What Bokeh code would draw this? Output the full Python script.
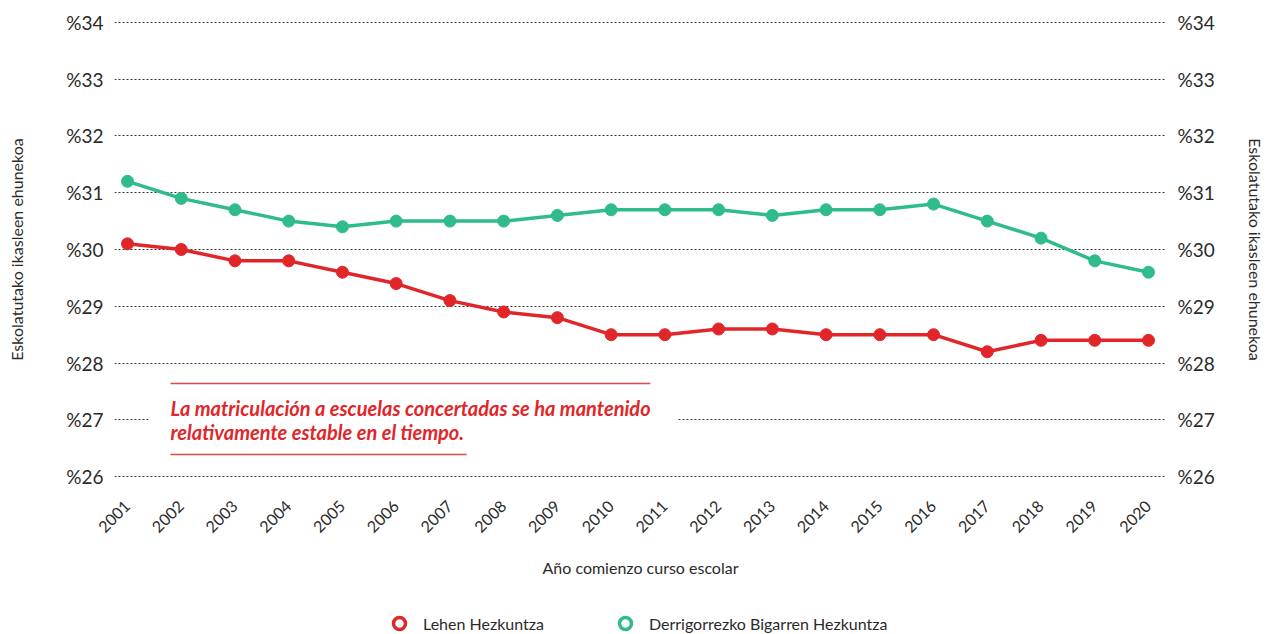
from math import pi
from bokeh.plotting import figure
from bokeh.layouts import column
from bokeh.models import (LinearAxis, FixedTicker, Legend, LegendItem, Label,
                          BoxAnnotation, Range1d, ColumnDataSource)
from bokeh.embed import file_html
from bokeh.resources import INLINE

# ---- data ----
years = list(range(2001, 2021))
lehen = [30.1, 30.0, 29.8, 29.8, 29.6, 29.4, 29.1, 28.9, 28.8, 28.5,
         28.5, 28.6, 28.6, 28.5, 28.5, 28.5, 28.2, 28.4, 28.4, 28.4]
dbh = [31.2, 30.9, 30.7, 30.5, 30.4, 30.5, 30.5, 30.5, 30.6, 30.7,
       30.7, 30.7, 30.6, 30.7, 30.7, 30.8, 30.5, 30.2, 29.8, 29.6]
y_ticks = [26, 27, 28, 29, 30, 31, 32, 33, 34]
y_tick_labels = ["%26", "%27", "%28", "%29", "%30", "%31", "%32", "%33", "%34"]
x_tick_labels = [str(y) for y in years]
series_names = ["Lehen Hezkuntza", "Derrigorrezko Bigarren Hezkuntza"]
y_title = "Eskolatutako ikasleen ehunekoa"
x_title = "Año comienzo curso escolar"
note_lines = ["La matriculación a escuelas concertadas se ha mantenido",
              "relativamente estable en el tiempo."]

RED = "#e1262a"
GREEN = "#2fbb8a"
TXT = "#2b2b2b"
FONT = "Lato"

p = figure(width=1269, height=590,
           x_range=Range1d(2000.758, 2020.335), y_range=Range1d(25.985, 34.015),
           output_backend="svg", toolbar_location=None,
           min_border_left=114, min_border_right=103,
           min_border_top=21, min_border_bottom=113)
p.outline_line_color = None
p.xgrid.grid_line_color = None
p.ygrid.ticker = FixedTicker(ticks=y_ticks)
p.ygrid.grid_line_color = "#333333"
p.ygrid.grid_line_dash = "2 2"
p.ygrid.grid_line_width = 1

# axes
def style_y(ax, standoff):
    ax.ticker = FixedTicker(ticks=y_ticks)
    ax.major_label_overrides = dict(zip(y_ticks, y_tick_labels))
    ax.axis_line_color = None
    ax.major_tick_line_color = None
    ax.minor_tick_line_color = None
    ax.major_tick_out = 0
    ax.major_tick_in = 0
    ax.major_label_standoff = 11
    ax.major_label_text_font = FONT
    ax.major_label_text_font_size = "19px"
    ax.major_label_text_color = TXT
    ax.axis_label = y_title
    ax.axis_label_text_font = FONT
    ax.axis_label_text_font_size = "16px"
    ax.axis_label_text_font_style = "normal"
    ax.axis_label_text_color = TXT
    ax.axis_label_standoff = standoff

style_y(p.yaxis[0], 37)
yr = LinearAxis()
style_y(yr, 28)
p.add_layout(yr, "right")

xa = p.xaxis[0]
xa.ticker = FixedTicker(ticks=years)
xa.major_label_overrides = dict(zip(years, x_tick_labels))
xa.major_label_orientation = pi / 4
xa.axis_line_color = None
xa.major_tick_line_color = None
xa.minor_tick_line_color = None
xa.major_tick_out = 0
xa.major_tick_in = 0
xa.major_label_standoff = 26
xa.major_label_text_font = FONT
xa.major_label_text_font_size = "16px"
xa.major_label_text_color = TXT
xa.axis_label = x_title
xa.axis_label_text_font = FONT
xa.axis_label_text_font_size = "16px"
xa.axis_label_text_font_style = "normal"
xa.axis_label_text_color = TXT
xa.axis_label_standoff = 17

# annotation (white box hides the gridline behind the note)
p.add_layout(BoxAnnotation(left=2001.39, right=2011.22, bottom=26.8, top=27.2,
                           fill_color="white", fill_alpha=1, line_color=None,
                           level="annotation"))
p.segment(x0=[2001.80, 2001.80], y0=[27.64, 26.39], x1=[2010.73, 2007.31],
          y1=[27.64, 26.39], line_color="#e6474a", line_width=1.5)
for txt, yy in zip(note_lines, [27.21, 26.79]):
    p.add_layout(Label(x=2001.80, y=yy, text=txt, text_font=FONT,
                       text_font_size="20px", text_font_style="bold italic",
                       text_color=RED, text_baseline="alphabetic"))

# series
src = ColumnDataSource(dict(x=years, a=lehen, b=dbh))
p.line("x", "a", source=src, line_color=RED, line_width=3.5)
p.scatter("x", "a", source=src, size=12, fill_color=RED, line_color=RED)
p.line("x", "b", source=src, line_color=GREEN, line_width=3.5)
p.scatter("x", "b", source=src, size=12, fill_color=GREEN, line_color=GREEN)

# legend strip (separate figure underneath, hollow circle glyphs;
# its proxy renderers hold the series but lie outside this strip's ranges)
pl = figure(width=1269, height=44, output_backend="svg", toolbar_location=None,
            x_range=Range1d(0, 1), y_range=Range1d(0, 1),
            x_axis_location=None, y_axis_location=None, min_border=0)
pl.outline_line_color = None
pl.grid.grid_line_color = None
lg_a = pl.scatter(x=years, y=lehen, marker="circle", fill_color="white",
                  line_color=RED, line_width=3.5)
lg_b = pl.scatter(x=years, y=dbh, marker="circle", fill_color="white",
                  line_color=GREEN, line_width=3.5)
legend = Legend(items=[LegendItem(label=series_names[0], renderers=[lg_a]),
                       LegendItem(label=series_names[1], renderers=[lg_b])],
                orientation="horizontal", location=(270, -4),
                glyph_width=30, glyph_height=30, label_standoff=9,
                spacing=66, padding=0, margin=0,
                border_line_color=None, background_fill_alpha=0,
                label_text_font=FONT, label_text_font_size="16px",
                label_text_color=TXT)
pl.add_layout(legend, "center")

open("out.html", "w").write(file_html(column(p, pl, spacing=0), INLINE))
